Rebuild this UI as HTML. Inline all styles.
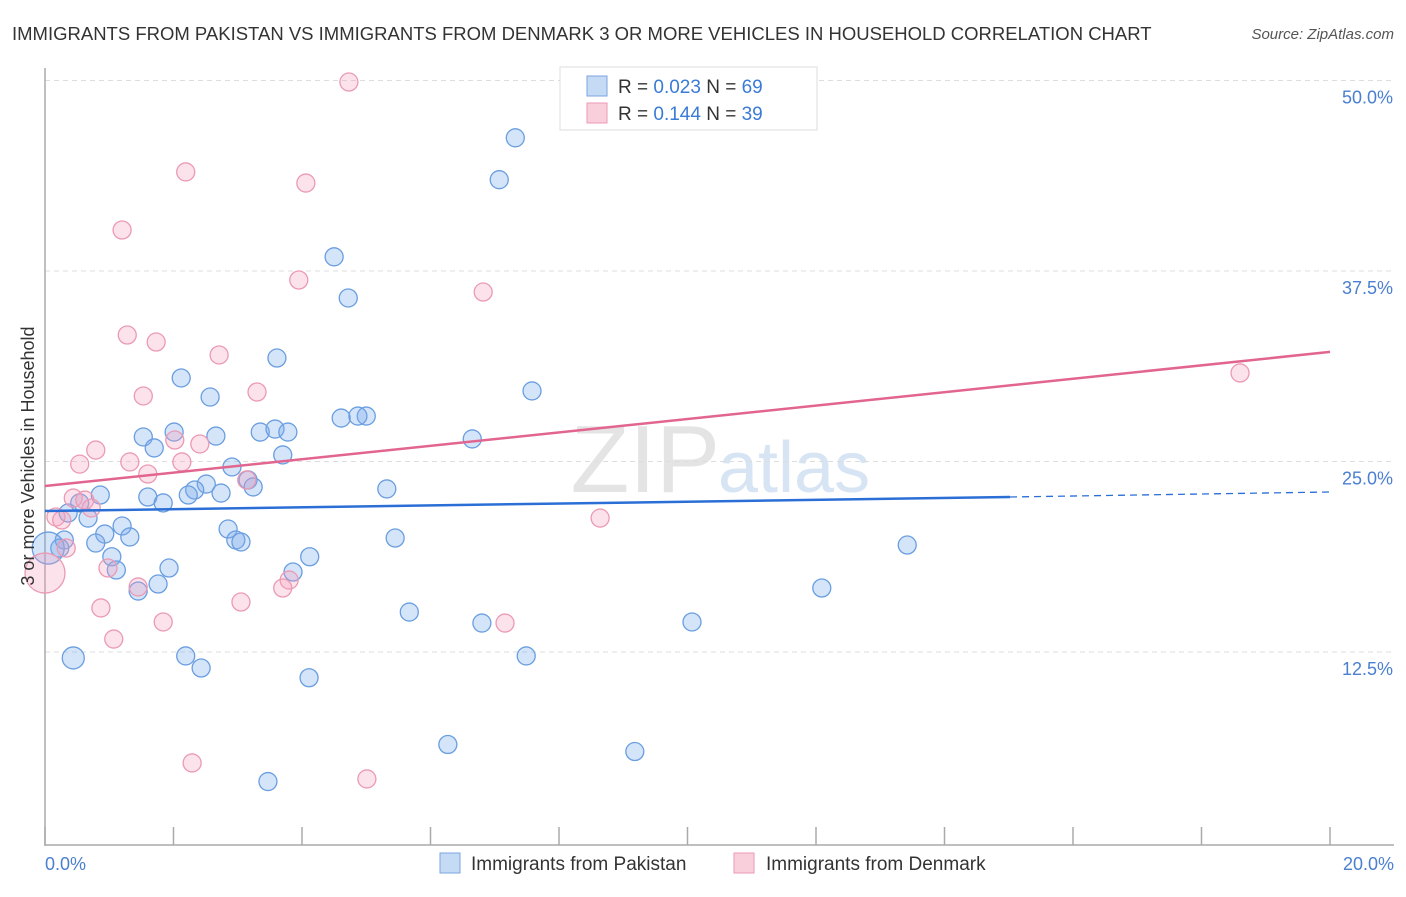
<!DOCTYPE html>
<html><head><meta charset="utf-8"><style>
body{margin:0;background:#fff;font-family:"Liberation Sans",sans-serif;}
svg text{font-family:"Liberation Sans",sans-serif;}
</style></head><body>
<svg id="chart" width="1406" height="892" viewBox="0 0 1406 892" xmlns="http://www.w3.org/2000/svg">
<text x="12" y="40" font-size="18.5" fill="#333">IMMIGRANTS FROM PAKISTAN VS IMMIGRANTS FROM DENMARK 3 OR MORE VEHICLES IN HOUSEHOLD CORRELATION CHART</text>
<text x="1394" y="39" font-size="15" fill="#555" font-style="italic" text-anchor="end">Source: ZipAtlas.com</text>
<text x="720" y="492" font-size="96" fill="#e4e4e4" text-anchor="end" font-family="Liberation Serif">ZIP</text>
<text x="718" y="492" font-size="72" fill="#d6e4f4">atlas</text>
<g id="grid"></g>
<line x1="45" y1="68" x2="45" y2="846" stroke="#aaa" stroke-width="1.5"/>
<line x1="45" y1="845" x2="1394" y2="845" stroke="#aaa" stroke-width="1.5"/>
<g id="xticks"></g>
<g id="pts"></g>
<g id="trends"></g>
<text transform="translate(34,456) rotate(-90)" font-size="18" fill="#333" text-anchor="middle">3 or more Vehicles in Household</text>
<text x="45" y="870" font-size="18" fill="#4a7fd1">0.0%</text>
<text x="1394" y="870" font-size="18" fill="#4a7fd1" text-anchor="end">20.0%</text>
<g>
<rect x="560" y="67" width="257" height="63" fill="#fff" stroke="#ddd"/>
<rect x="587" y="76" width="20" height="20" fill="#c5daf5" stroke="#7aa5e0"/>
<rect x="587" y="103" width="20" height="20" fill="#f9cfdc" stroke="#ec9ab4"/>
<text x="618" y="93" font-size="19" fill="#333">R = <tspan fill="#3a7bd5">0.023</tspan>   N = <tspan fill="#3a7bd5">69</tspan></text>
<text x="618" y="120" font-size="19" fill="#333">R =  <tspan fill="#3a7bd5">0.144</tspan>   N = <tspan fill="#3a7bd5">39</tspan></text>
</g>
<g>
<rect x="440" y="853" width="20" height="20" fill="#c5daf5" stroke="#7aa5e0"/>
<text x="471" y="870" font-size="19" fill="#333">Immigrants from Pakistan</text>
<rect x="734" y="853" width="20" height="20" fill="#f9cfdc" stroke="#ec9ab4"/>
<text x="766" y="870" font-size="19" fill="#333">Immigrants from Denmark</text>
</g>
</svg>
<script>
const yTicks=[12.5,25,37.5,50];
const yTickLabels=["12.5%","25.0%","37.5%","50.0%"];
const xTicks=[0,2,4,6,8,10,12,14,16,18,20];
const pakX=[7.32,7.07,4.50,4.72,3.61,2.12,7.58,2.57,4.61,5.00,4.87,2.01,1.53,2.66,3.35,3.58,3.78,1.70,6.65,3.70,2.91,2.51,2.33,2.23,3.16,3.24,2.74,5.32,1.60,1.84,0.86,0.54,0.36,0.67,1.20,0.93,1.32,2.85,2.97,3.05,5.45,0.79,0.30,0.23,1.04,1.11,1.93,4.12,3.86,1.76,1.45,13.42,12.09,5.67,6.80,10.07,0.44,2.19,2.43,7.49,4.11,6.27,9.18,3.47,0.05];
const pakY=[46.24,43.49,38.43,35.73,31.79,30.48,29.63,29.23,27.85,27.98,27.98,26.93,26.61,26.67,26.93,27.13,26.93,25.89,26.48,25.43,24.64,23.52,23.13,22.80,23.79,23.33,22.93,23.20,22.67,22.28,22.80,22.28,21.62,21.29,20.77,20.24,20.05,20.57,19.85,19.72,19.98,19.65,19.85,19.32,18.75,17.88,18.01,18.75,17.75,16.96,16.50,19.52,16.70,15.12,14.40,14.47,12.11,12.24,11.45,12.24,10.81,6.43,5.97,4.00,19.32];
const pakR=[9,9,9,9,9,9,9,9,9,9,9,9,9,9,9,9,9,9,9,9,9,9,9,9,9,9,9,9,9,9,9,9,9,9,9,9,9,9,9,9,9,9,9,9,9,9,9,9,9,9,9,9,9,9,9,9,11,9,9,9,9,9,9,9,16];
const denX=[4.73,2.19,4.06,1.20,3.95,6.82,1.28,1.73,2.71,3.30,1.53,2.02,2.41,0.79,0.54,1.32,2.13,1.60,3.14,0.44,0.62,0.72,0.17,0.26,0.33,8.64,18.60,0.98,1.45,3.80,3.70,0.87,3.05,1.84,7.16,1.07,2.29,5.01,0.0];
const denY=[49.90,44.00,43.27,40.19,36.91,36.12,33.30,32.84,31.99,29.56,29.30,26.41,26.15,25.75,24.83,24.97,24.97,24.18,23.79,22.60,22.47,21.95,21.36,21.16,19.32,21.29,30.81,18.01,16.77,17.22,16.70,15.39,15.78,14.47,14.40,13.35,5.22,4.17,17.68];
const denR=[9,9,9,9,9,9,9,9,9,9,9,9,9,9,9,9,9,9,9,9,9,9,9,9,9,9,9,9,9,9,9,9,9,9,9,9,9,9,20];
const pakTrend=[21.75,22.67,23.0]; // at x=0, 15.0, 20
const pakTrendX=[0,15.02,20];
const denTrend=[23.39,32.19];
const denTrendX=[0,20];
const NS="http://www.w3.org/2000/svg";
const X=v=>45+v*64.25;
const Y=v=>842.5-v*15.24;
function mk(t,a,p){const e=document.createElementNS(NS,t);for(const k in a)e.setAttribute(k,a[k]);p.appendChild(e);return e;}
const grid=document.getElementById('grid');
yTicks.forEach((t,i)=>{
 const l=mk('line',{x1:45,x2:1394,y1:Y(t),y2:Y(t),stroke:'#ddd','stroke-dasharray':'5,4'},grid);
 
 
 const tx=mk('text',{x:1393,y:Y(t)+23,'font-size':18,fill:'#4a7fd1','text-anchor':'end'},grid);
 tx.textContent=yTickLabels[i];
 
 
});
const xt=document.getElementById('xticks');
xTicks.forEach(t=>{
 const l=mk('line',{x1:X(t),x2:X(t),y1:827,y2:845,stroke:'#aaa','stroke-width':1.5},xt);
 
 
});
const pts=document.getElementById('pts');
pakX.forEach((v,i)=>{
 const c=mk('circle',{cx:X(v),cy:Y(pakY[i]),r:pakR[i],fill:'rgba(120,170,235,0.32)',stroke:'#6a9ee0','stroke-width':1.3},pts);
 
 
});
denX.forEach((v,i)=>{
 const c=mk('circle',{cx:X(v),cy:Y(denY[i]),r:denR[i],fill:'rgba(245,160,190,0.3)',stroke:'#eb9ab4','stroke-width':1.3},pts);
 
 
});
const tr=document.getElementById('trends');
const a=mk('line',{x1:X(pakTrendX[0]),y1:Y(pakTrend[0]),x2:X(pakTrendX[1]),y2:Y(pakTrend[1]),stroke:'#2b6fd6','stroke-width':2.5},tr);


const b=mk('line',{x1:X(pakTrendX[1]),y1:Y(pakTrend[1]),x2:X(pakTrendX[2]),y2:Y(pakTrend[2]),stroke:'#2b6fd6','stroke-width':1.3,'stroke-dasharray':'7,5'},tr);


const d=mk('line',{x1:X(denTrendX[0]),y1:Y(denTrend[0]),x2:X(denTrendX[1]),y2:Y(denTrend[1]),stroke:'#e2658f','stroke-width':2.5},tr);


</script>
</body></html>
